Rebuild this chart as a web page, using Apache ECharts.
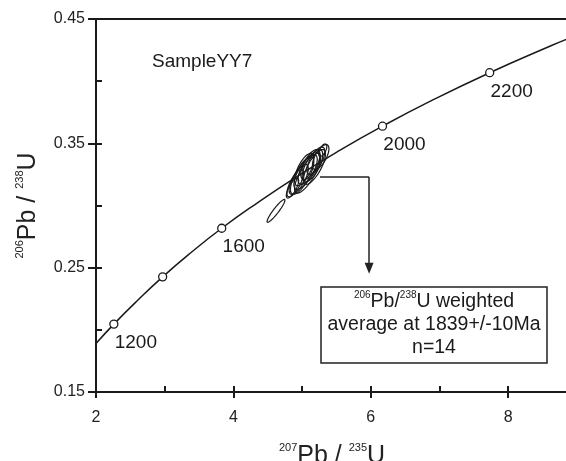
<!DOCTYPE html>
<html>
<head>
<meta charset="utf-8">
<script src="https://cdn.jsdelivr.net/npm/echarts@6/dist/echarts.min.js"></script>
<style>
  html, body { margin: 0; padding: 0; background: #fff; }
  #main { width: 566px; height: 461px; }
</style>
</head>
<body>
<div id="main"></div>
<script>
// concordia curve
const curveX = [2.0, 2.26, 2.60, 2.97, 3.38, 3.83, 4.34, 4.89, 5.50, 6.17, 6.91, 7.73, 8.63, 8.87];
const curveY = [0.189, 0.2046, 0.2234, 0.2426, 0.2620, 0.2817, 0.3018, 0.3221, 0.3428, 0.3638, 0.3851, 0.4068, 0.4287, 0.4342];

// age marks on the curve (Ma)
const ageLabels = ['1200', '', '1600', '2000', '2200'];
const ageX = [2.26, 2.97, 3.83, 6.17, 7.73];
const ageY = [0.2046, 0.2426, 0.2817, 0.3638, 0.4068];

// error ellipses: centre, half-widths, correlation
const ellX   = [5.05, 5.10, 5.15, 5.00, 5.20, 4.95, 5.08, 5.12, 5.27, 4.90, 5.03, 5.18, 4.86, 5.30, 4.62];
const ellY   = [0.327, 0.330, 0.332, 0.324, 0.336, 0.321, 0.326, 0.333, 0.339, 0.318, 0.329, 0.331, 0.314, 0.3445, 0.2957];
const ellSx  = [0.17, 0.16, 0.15, 0.17, 0.13, 0.14, 0.19, 0.14, 0.12, 0.12, 0.14, 0.16, 0.09, 0.06, 0.13];
const ellSy  = [0.014, 0.013, 0.013, 0.015, 0.011, 0.012, 0.016, 0.012, 0.010, 0.011, 0.013, 0.014, 0.008, 0.005, 0.0092];
const ellRho = [0.72, 0.70, 0.68, 0.74, 0.68, 0.72, 0.78, 0.66, 0.66, 0.74, 0.68, 0.74, 0.76, 0.60, 0.93];

// axis tick labels
const xTickLabels = ['2', '4', '6', '8'];
const yTickLabels = ['0.15', '0.25', '0.35', '0.45'];

// arrow from the cluster to the note
const arrowX = [5.26, 5.975, 5.975];
const arrowY = [0.323, 0.323, 0.2495];

const FONT = "'Liberation Sans', Arial, sans-serif";
const INK = '#1a1a1a';
const X_MIN = 2, X_MAX = 8.87, Y_MIN = 0.15, Y_MAX = 0.45;

let chart = echarts.init(document.getElementById('main'), null, { renderer: 'canvas' });

const supRich = {
        m: { fontSize: 25, lineHeight: 28, fontFamily: FONT, color: '#222' },
        sup: { fontSize: 11, lineHeight: 14, verticalAlign: 'top', fontFamily: FONT, color: '#222' }
};

const renderEllipse = (params, api) => {
        const cx = api.value(0), cy = api.value(1);
        const sx = api.value(2), sy = api.value(3), rho = api.value(4);
        const k = Math.sqrt(1 - rho * rho);
        const pts = [];
        for (let i = 0; i <= 60; i++) {
                const t = i / 60 * Math.PI * 2;
                pts.push(api.coord([cx + sx * Math.cos(t), cy + sy * (rho * Math.cos(t) + k * Math.sin(t))]));
        }
        return {
                type: 'polygon',
                shape: { points: pts },
                style: { fill: 'none', stroke: INK, lineWidth: 1.2 }
        };
};

let option = {
        animation: false,
        grid: {
                left: 96,
                right: -2,
                top: 19,
                bottom: 69,
                show: true,
                borderColor: INK,
                borderWidth: 2,
                outerBoundsMode: 'none'
        },
        xAxis: [{
                type: 'value',
                min: X_MIN,
                max: X_MAX,
                interval: 2,
                position: 'bottom',
                name: '{sup|207}{m|Pb / }{sup|235}{m|U}',
                nameLocation: 'middle',
                nameGap: 50,
                nameTextStyle: { rich: supRich },
                axisLine: { show: true, lineStyle: { color: INK, width: 2 } },
                axisTick: { show: true, inside: false, length: 6, lineStyle: { color: INK, width: 2 } },
                axisLabel: {
                        margin: 18,
                        fontSize: 16,
                        fontFamily: FONT,
                        color: '#222',
                        formatter: (v, i) => xTickLabels[i] || ''
                },
                splitLine: { show: false }
        }, {
                type: 'value',
                min: X_MIN,
                max: X_MAX,
                interval: 1,
                position: 'bottom',
                axisLine: { show: false },
                axisTick: { show: true, inside: true, length: 6, lineStyle: { color: INK, width: 2 } },
                axisLabel: { show: false },
                splitLine: { show: false }
        }],
        yAxis: [{
                type: 'value',
                min: Y_MIN,
                max: Y_MAX,
                interval: 0.1,
                position: 'left',
                name: '{sup|206}{m|Pb / }{sup|238}{m|U}',
                nameLocation: 'middle',
                nameGap: 54,
                nameTextStyle: { rich: supRich },
                axisLine: { show: true, lineStyle: { color: INK, width: 2 } },
                axisTick: { show: true, inside: false, length: 8, lineStyle: { color: INK, width: 2 } },
                axisLabel: {
                        margin: 11,
                        fontSize: 16,
                        fontFamily: FONT,
                        color: '#222',
                        formatter: (v, i) => yTickLabels[i] || ''
                },
                splitLine: { show: false }
        }, {
                type: 'value',
                min: Y_MIN,
                max: Y_MAX,
                interval: 0.05,
                position: 'left',
                axisLine: { show: false },
                axisTick: { show: true, inside: true, length: 6, lineStyle: { color: INK, width: 2 } },
                axisLabel: { show: false },
                splitLine: { show: false }
        }],
        series: [{
                // concordia
                type: 'line',
                smooth: true,
                symbol: 'none',
                lineStyle: { color: INK, width: 1.5 },
                data: curveX.map((x, i) => [x, curveY[i]]),
                markLine: {
                        silent: true,
                        animation: false,
                        label: { show: false },
                        lineStyle: { color: '#222', width: 1.5, type: 'solid' },
                        data: [
                                [{ coord: [arrowX[0], arrowY[0]], symbol: 'none' },
                                 { coord: [arrowX[1], arrowY[1]], symbol: 'none' }],
                                [{ coord: [arrowX[1], arrowY[1]], symbol: 'none' },
                                 { coord: [arrowX[2], arrowY[2]], symbol: 'triangle', symbolSize: [9, 11] }]
                        ]
                }
        }, {
                // age marks
                type: 'scatter',
                symbol: 'circle',
                symbolSize: 8,
                itemStyle: { color: '#fff', borderColor: INK, borderWidth: 1.3, opacity: 1 },
                label: {
                        show: true,
                        position: 'inside',
                        offset: [22, 19],
                        fontSize: 19,
                        fontFamily: FONT,
                        color: '#1a1a1a',
                        opacity: 1,
                        formatter: (p) => ageLabels[p.dataIndex]
                },
                data: ageX.map((x, i) => [x, ageY[i]]),
                z: 3
        }, {
                // analyses
                type: 'custom',
                renderItem: renderEllipse,
                encode: { x: 0, y: 1 },
                data: ellX.map((x, i) => [x, ellY[i], ellSx[i], ellSy[i], ellRho[i]]),
                z: 4
        }],
        graphic: [{
                type: 'text',
                x: 152,
                y: 62,
                style: {
                        text: 'SampleYY7',
                        font: "19px " + FONT,
                        fill: '#1a1a1a',
                        verticalAlign: 'middle'
                }
        }, {
                type: 'rect',
                shape: { x: 321, y: 287, width: 226, height: 76 },
                style: { fill: '#fff', stroke: '#222', lineWidth: 1.5 },
                z: 10
        }, {
                type: 'text',
                x: 434,
                y: 325,
                z: 11,
                style: {
                        text: '{sup|206}{m|Pb/}{sup|238}{m|U weighted}\n{m|average at 1839+/-10Ma}\n{m|n=14}',
                        align: 'center',
                        verticalAlign: 'middle',
                        rich: {
                                m: { fontSize: 19.5, lineHeight: 23, fontFamily: FONT, fill: '#1a1a1a' },
                                sup: { fontSize: 10, lineHeight: 12, verticalAlign: 'top', fontFamily: FONT, fill: '#1a1a1a' }
                        }
                }
        }]
};

chart.setOption(option);
</script>
</body>
</html>
